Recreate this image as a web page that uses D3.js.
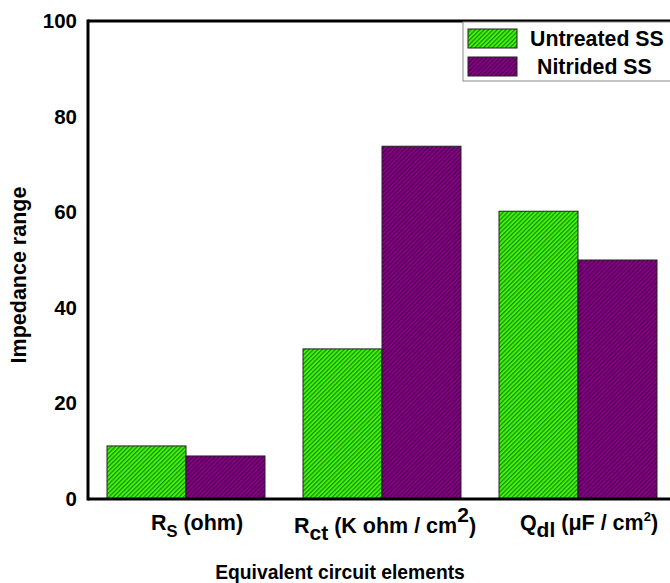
<!DOCTYPE html>
<html><head><meta charset="utf-8">
<script src="https://cdn.jsdelivr.net/npm/d3@7/dist/d3.min.js"></script>
<style>body{margin:0;background:#fff;} svg{display:block;font-family:"Liberation Sans",Arial,sans-serif;font-weight:bold;}</style>
</head><body>
<svg id="c" width="670" height="583"></svg>
<script>
const categories = ["Rs", "Rct", "Qdl"];
const seriesNames = ["Untreated SS", "Nitrided SS"];
const untreated = [11.1, 31.4, 60.2];
const nitrided = [9.0, 73.8, 50.0];
const yTicks = [0, 20, 40, 60, 80, 100];
const colors = ["#3cf70c", "#880088"];

const svg = d3.select("#c");
const pLeft = 88, pTop = 21, pBottom = 499, pRight = 676;
const x = d3.scaleBand().domain(categories).range([pLeft, pRight]).paddingInner(0.194).paddingOuter(0.097);
const xs = d3.scaleBand().domain(seriesNames).range([0, x.bandwidth()]);
const y = d3.scaleLinear().domain([0, 100]).range([pBottom, pTop]);

const defs = svg.append("defs");
colors.forEach((c, i) => {
  const p = defs.append("pattern").attr("id", "h" + i).attr("patternUnits", "userSpaceOnUse")
    .attr("width", 3.1).attr("height", 3.1).attr("patternTransform", "rotate(45)");
  p.append("rect").attr("width", 3.1).attr("height", 3.1).attr("fill", c);
  p.append("line").attr("x1", 0.6).attr("y1", 0).attr("x2", 0.6).attr("y2", 3.1)
    .attr("stroke", "#000").attr("stroke-width", 1.1).attr("stroke-opacity", 0.5);
});

const data = categories.map((c, i) => ({cat: c, vals: [untreated[i], nitrided[i]]}));
const g = svg.append("g");
data.forEach(d => {
  d.vals.forEach((v, j) => {
    g.append("rect")
      .attr("x", x(d.cat) + xs(seriesNames[j]))
      .attr("y", y(v))
      .attr("width", xs.bandwidth())
      .attr("height", y(0) - y(v))
      .attr("fill", "url(#h" + j + ")")
      .attr("stroke", "#222").attr("stroke-width", 1);
  });
});

// frame
svg.append("line").attr("x1", pLeft).attr("x2", 672).attr("y1", pTop).attr("y2", pTop).attr("stroke", "#000").attr("stroke-width", 3);
svg.append("line").attr("x1", pLeft).attr("x2", 672).attr("y1", pBottom).attr("y2", pBottom).attr("stroke", "#000").attr("stroke-width", 3);
svg.append("line").attr("x1", pLeft).attr("x2", pLeft).attr("y1", pTop - 1.5).attr("y2", pBottom + 1.5).attr("stroke", "#000").attr("stroke-width", 3);

// y axis
const yAxis = d3.axisLeft(y).tickValues(yTicks).tickSize(0).tickPadding(11);
const ya = svg.append("g").attr("transform", `translate(${pLeft},0)`).call(yAxis);
ya.select(".domain").remove();
ya.selectAll("text").attr("font-size", 20.5).attr("font-weight", "bold").attr("font-family", "Liberation Sans, Arial, sans-serif").attr("fill", "#000");

svg.append("text").attr("transform", `translate(26,275) rotate(-90)`)
  .attr("text-anchor", "middle").attr("font-size", 21.5).text("Impedance range");

// x labels
const lbl = svg.append("g").attr("font-size", 21.5).attr("text-anchor", "middle");
const labelCenters = {Rs: 197, Rct: 385, Qdl: 589};
function cx(c) { return x(c) + x.bandwidth() / 2; }
let t = lbl.append("text").attr("x", cx("Rs") + 11).attr("y", 530);
t.append("tspan").text("R");
t.append("tspan").attr("dy", 7).attr("font-size", 16.5).text("S");
t.append("tspan").attr("dy", -7).text(" (ohm)");
t = lbl.append("text").attr("x", cx("Rct") + 3).attr("y", 533);
t.append("tspan").text("R");
t.append("tspan").attr("dy", 7).attr("font-size", 21).text("ct");
t.append("tspan").attr("dy", -7).text(" (K ohm / cm");
t.append("tspan").attr("dy", -11).attr("font-size", 21).text("2");
t.append("tspan").attr("dy", 11).text(")");
t = lbl.append("text").attr("x", cx("Qdl") + 11).attr("y", 530);
t.append("tspan").text("Q");
t.append("tspan").attr("dy", 7).attr("font-size", 21).text("dl");
t.append("tspan").attr("dy", -7).text(" (μF / cm");
t.append("tspan").attr("dy", -9).attr("font-size", 13).text("2");
t.append("tspan").attr("dy", 9).text(")");

svg.append("text").attr("x", 340).attr("y", 579).attr("text-anchor", "middle").attr("font-size", 19.3).text("Equivalent circuit elements");

// legend
const lg = svg.append("g");
lg.append("rect").attr("x", 463).attr("y", 22).attr("width", 215).attr("height", 59).attr("fill", "#fff").attr("stroke", "#888").attr("stroke-width", 1);
seriesNames.forEach((s, i) => {
  lg.append("rect").attr("x", 468).attr("y", 29 + i * 28).attr("width", 49).attr("height", 19)
    .attr("fill", "url(#h" + i + ")").attr("stroke", "#222").attr("stroke-width", 1);
  lg.append("text").attr("x", i === 0 ? 530 : 537).attr("y", 46 + i * 28).attr("font-size", 21.3).text(s);
});
</script>
</body></html>
